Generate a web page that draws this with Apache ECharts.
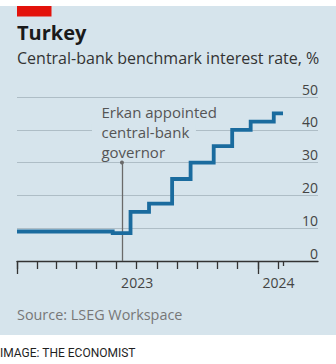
<!DOCTYPE html>
<html>
<head>
<meta charset="utf-8">
<script src="https://cdn.jsdelivr.net/npm/echarts@6/dist/echarts.min.js"></script>
<style>
  html, body { margin: 0; padding: 0; background: #ffffff; }
  #wrap { position: relative; width: 336px; height: 364px; overflow: hidden; }
  #bg { position: absolute; left: 0; top: 6px; width: 336px; height: 329px; background: #d6e4ec; }
  #chart { position: absolute; left: 0; top: 0; width: 336px; height: 364px; }
</style>
</head>
<body>
<div id="wrap">
  <div id="bg"></div>
  <div id="chart"></div>
</div>
<script>
// ---- data ----
const dates = ['2023-01-01', '2023-05-26', '2023-06-22', '2023-07-20', '2023-08-24', '2023-09-21',
               '2023-10-26', '2023-11-23', '2023-12-21', '2024-01-25', '2024-02-08'];
const rates = [9, 8.5, 15, 17.5, 25, 30, 35, 40, 42.5, 45, 45];

const erkanDate = '2023-06-09';
const erkanTop = 30;
const annotationLines = ['Erkan appointed', 'central-bank', 'governor'];

const yTicks = [0, 10, 20, 30, 40, 50];
const monthTicks = ['2023-01-01', '2023-02-01', '2023-03-01', '2023-04-01', '2023-05-01', '2023-06-01',
                    '2023-07-01', '2023-08-01', '2023-09-01', '2023-10-01', '2023-11-01', '2023-12-01',
                    '2024-01-01', '2024-02-01'];
const yearTicks = ['2023-01-01', '2024-01-01'];
const endTick = ['2024-02-08'];
const yearLabels = ['2023', '2024'];
const yearLabelAt = ['2023-07-02', '2024-02-01'];
const xMin = '2023-01-01';
const xMax = '2024-04-01';

const titleText = 'Turkey';
const subtitleText = 'Central-bank benchmark interest rate, %';
const sourceText = 'Source: LSEG Workspace';
const footerText = 'IMAGE: THE ECONOMIST';

// ---- helpers ----
function t(s) { const [y, m, d] = s.split('-').map(Number); return Date.UTC(y, m - 1, d); }

const BG = '#d6e4ec';
const FONT = '"Open Sans", "Noto Sans", sans-serif';
const AXIS = '#333333';

const chart = echarts.init(document.getElementById('chart'), null, { renderer: 'svg', width: 336, height: 364 });

const baseX = {
  type: 'value', gridIndex: 0, position: 'bottom',
  min: t(xMin), max: t(xMax),
  splitLine: { show: false }
};

const option = {
  backgroundColor: 'transparent',
  animation: false,
  grid: { left: 17, right: 18, top: 97, bottom: 103, containLabel: false, outerBoundsMode: 'none' },
  xAxis: [
    Object.assign({}, baseX, {
      axisLine: { show: true, lineStyle: { color: AXIS, width: 1.3 } },
      axisTick: { show: true, customValues: monthTicks.map(t), length: 8, lineStyle: { color: AXIS, width: 1.3 } },
      axisLabel: {
        show: true, customValues: yearLabelAt.map(t),
        formatter: (v) => yearLabels[yearLabelAt.map(t).indexOf(v)],
        margin: 14, fontSize: 14, color: '#444', fontFamily: FONT
      }
    }),
    Object.assign({}, baseX, {
      axisLine: { show: false },
      axisTick: { show: true, customValues: yearTicks.map(t), length: 13, lineStyle: { color: AXIS, width: 1.3 } },
      axisLabel: { show: false }
    }),
    Object.assign({}, baseX, {
      axisLine: { show: false },
      axisTick: { show: true, customValues: endTick.map(t), length: 5, lineStyle: { color: AXIS, width: 1.3 } },
      axisLabel: { show: false }
    })
  ],
  yAxis: {
    type: 'value', position: 'right', min: 0, max: 50, interval: 10,
    axisLine: { show: false }, axisTick: { show: false },
    splitLine: { show: true, lineStyle: { color: '#aebdc6', width: 1 } },
    axisLabel: {
      inside: true, margin: 0, fontSize: 14, color: '#444', fontFamily: FONT,
      verticalAlign: 'bottom', lineHeight: 16,
      customValues: yTicks
    }
  },
  series: [{
    type: 'line', xAxisIndex: 0, yAxisIndex: 0,
    step: 'end', symbol: 'none', silent: true,
    data: dates.map((d, i) => [t(d), rates[i]]),
    lineStyle: { color: '#1a6b9e', width: 3.8, cap: 'butt', join: 'miter' },
    z: 5,
    markLine: {
      silent: true, symbol: ['circle', 'none'], symbolSize: 4,
      lineStyle: { color: '#6a6a6a', width: 1.3, type: 'solid' },
      label: { show: false }, emphasis: { disabled: true },
      data: [[{ coord: [t(erkanDate), erkanTop] }, { coord: [t(erkanDate), 0] }]]
    }
  }]
};
chart.setOption(option);

const p = chart.convertToPixel({ xAxisIndex: 0, yAxisIndex: 0 }, [t(erkanDate), erkanTop]);

chart.setOption({
  graphic: [
    { type: 'rect', shape: { x: 17, y: 6, width: 34.5, height: 10.5 }, style: { fill: '#e3120b' } },
    { type: 'text', x: 17, y: 32, style: { text: titleText, font: 'bold 20px ' + FONT, fill: '#1a1a1a', verticalAlign: 'middle', align: 'left' } },
    { type: 'text', x: 17, y: 58, style: { text: subtitleText, font: '16px ' + FONT, fill: '#333', verticalAlign: 'middle', align: 'left' } },
    { type: 'text', x: 17, y: 314, style: { text: sourceText, font: '14.4px ' + FONT, fill: '#777', verticalAlign: 'middle', align: 'left' } },
    { type: 'text', x: 0, y: 352.5, style: { text: footerText, font: '12px Roboto, sans-serif', fill: '#1f1f1f', verticalAlign: 'middle', align: 'left' } },
    // background patch hiding the gridline behind the middle annotation line
    { type: 'rect', z: 9, shape: { x: p[0] - 30, y: p[1] - 39, width: 104, height: 14 }, style: { fill: BG } },
    {
      type: 'text', x: p[0] - 20.5, y: p[1] - 61, z: 10,
      style: {
        text: annotationLines.join('\n'),
        font: '15px ' + FONT, fill: '#555', verticalAlign: 'top', align: 'left', lineHeight: 20
      }
    }
  ]
});
</script>
</body>
</html>
